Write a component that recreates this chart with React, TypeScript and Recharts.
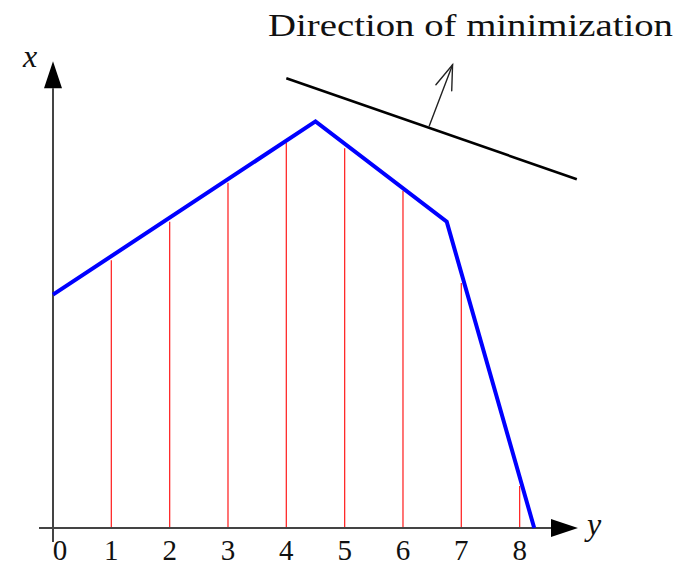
import { ComposedChart, Line, XAxis, YAxis, ReferenceLine } from "recharts";

// abscissa ticks and the red stems standing on each of them
const tickValues = [0, 1, 2, 3, 4, 5, 6, 7, 8];
const stemHeights = [4.0, 4.59, 5.25, 5.92, 6.6, 6.51, 5.78, 4.2, 0.72];

// blue piecewise-linear profile
const profileX = [0, 4.5, 6.75, 8.25];
const profileY = [4.0, 6.97, 5.25, 0];

// level line and its normal ("direction of minimization")
const levelX = [4.0, 8.98];
const levelY = [7.71, 5.98];
const normalX = [6.45, 6.85];
const normalY = [6.89, 7.94];

const profile = profileX.map((x, i) => ({ x, y: profileY[i] }));

const SERIF = "'Liberation Serif', 'Times New Roman', serif";
const W = 681;
const H = 564;

// line with a filled triangular head at (x2, y2)
function FilledArrow(props: any) {
  const { x1, y1, x2, y2 } = props;
  const len = 27;
  const half = 9;
  const dx = x2 - x1;
  const dy = y2 - y1;
  const d = Math.hypot(dx, dy) || 1;
  const ux = dx / d;
  const uy = dy / d;
  const bx = x2 - ux * len;
  const by = y2 - uy * len;
  const pts = `${x2},${y2} ${bx - uy * half},${by + ux * half} ${bx + uy * half},${by - ux * half}`;
  return (
    <g>
      <line x1={x1} y1={y1} x2={bx} y2={by} stroke="#444" strokeWidth={2} />
      <polygon points={pts} fill="#000" />
    </g>
  );
}

// thin line with an open two-stroke head
function OpenArrow(props: any) {
  const { x1, y1, x2, y2 } = props;
  const len = 26;
  const spread = (19 * Math.PI) / 180;
  const back = Math.atan2(y1 - y2, x1 - x2);
  const a = back + spread;
  const b = back - spread;
  return (
    <g stroke="#222" strokeWidth={1.4} fill="none" strokeLinecap="round">
      <line x1={x1} y1={y1} x2={x2} y2={y2} />
      <polyline
        points={`${x2 + Math.cos(a) * len},${y2 + Math.sin(a) * len} ${x2},${y2} ${
          x2 + Math.cos(b) * len
        },${y2 + Math.sin(b) * len}`}
      />
    </g>
  );
}

function DigitTick({ x, y, payload }: any) {
  // shift the 0 clear of the vertical axis
  const shift = payload.value === 0 ? 7 : 0;
  return (
    <text
      x={x + shift}
      y={y + 32}
      textAnchor="middle"
      fontFamily={SERIF}
      fontSize={29}
      fill="#111"
    >
      {payload.value}
    </text>
  );
}

export default function App() {
  return (
    <div style={{ position: "absolute", left: 0, top: 0, width: W, height: H, background: "#fff" }}>
      <ComposedChart
        width={W}
        height={H}
        margin={{ top: 61.33, right: 59.28, bottom: 0, left: 38.42 }}
      >
        <XAxis
          dataKey="x"
          type="number"
          domain={[-0.25, 9.75]}
          ticks={tickValues}
          interval={0}
          axisLine={false}
          tickLine={false}
          tickSize={0}
          tickMargin={0}
          height={36}
          tick={<DigitTick />}
        />
        <YAxis type="number" domain={[0, 8]} hide width={0} />

        {tickValues.map((t, i) => (
          <ReferenceLine
            key={t}
            segment={[
              { x: t, y: 0 },
              { x: t, y: stemHeights[i] },
            ]}
            stroke="#ff2a2a"
            strokeWidth={1.3}
            ifOverflow="visible"
          />
        ))}

        <ReferenceLine
          segment={[
            { x: -0.24, y: 0 },
            { x: 9.0, y: 0 },
          ]}
          ifOverflow="visible"
          shape={<FilledArrow />}
        />
        <ReferenceLine
          segment={[
            { x: 0, y: -0.24 },
            { x: 0, y: 8.0 },
          ]}
          ifOverflow="visible"
          shape={<FilledArrow />}
        />

        <ReferenceLine
          segment={[
            { x: levelX[0], y: levelY[0] },
            { x: levelX[1], y: levelY[1] },
          ]}
          stroke="#000"
          strokeWidth={2.6}
          ifOverflow="visible"
        />
        <ReferenceLine
          segment={[
            { x: normalX[0], y: normalY[0] },
            { x: normalX[1], y: normalY[1] },
          ]}
          ifOverflow="visible"
          shape={<OpenArrow />}
        />

        <Line
          data={profile}
          dataKey="y"
          type="linear"
          stroke="#0000ff"
          strokeWidth={4}
          strokeLinejoin="miter"
          dot={false}
          activeDot={false}
          isAnimationActive={false}
        />

        <text
          x={268}
          y={36}
          fontFamily={SERIF}
          fontSize={31}
          fill="#111"
          textLength={405}
          lengthAdjust="spacingAndGlyphs"
        >
          Direction of minimization
        </text>
        <text x={23} y={67} fontFamily={SERIF} fontStyle="italic" fontSize={32} fill="#111">
          x
        </text>
        <text x={587} y={535} fontFamily={SERIF} fontStyle="italic" fontSize={32} fill="#111">
          y
        </text>
      </ComposedChart>
    </div>
  );
}
